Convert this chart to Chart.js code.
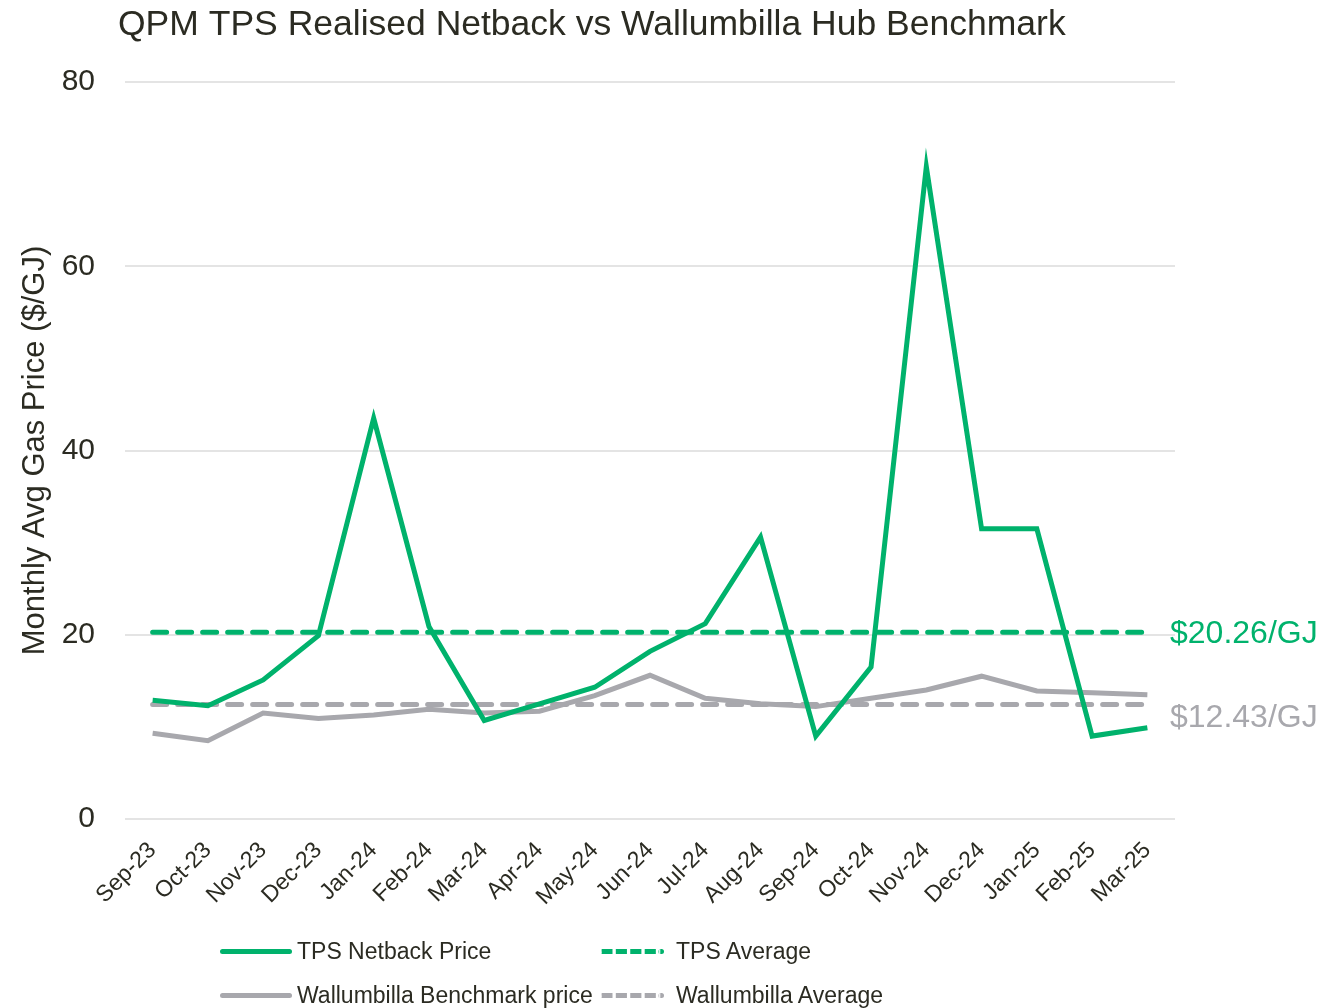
<!DOCTYPE html>
<html>
<head>
<meta charset="utf-8">
<script src="https://cdn.jsdelivr.net/npm/chart.js@4.4.1/dist/chart.umd.min.js"></script>
<style>
  html, body { margin: 0; padding: 0; background: #fff; }
  #wrap { position: relative; width: 1322px; height: 1008px; }
  #legend { position: absolute; left: 220px; top: 936px; font: 23px "Liberation Sans Narrow", "Liberation Sans", sans-serif; color: #2b2b22; }
  .row { position: absolute; white-space: nowrap; display: flex; align-items: center; height: 30px; }
  .sw { display: inline-block; width: 72px; height: 0; border-top: 5px solid; margin-right: 5px; border-radius: 3px; }
  .dash { border-top-style: dashed; width: 64px; margin-right: 12px; }
</style>
</head>
<body>
<div id="wrap">
  <canvas id="chart" width="1322" height="1008"></canvas>
  <div id="legend"></div>
</div>
<script>
const $ = id => document.getElementById(id);

const months = ["Sep-23", "Oct-23", "Nov-23", "Dec-23", "Jan-24", "Feb-24", "Mar-24", "Apr-24", "May-24", "Jun-24",
  "Jul-24", "Aug-24", "Sep-24", "Oct-24", "Nov-24", "Dec-24", "Jan-25", "Feb-25", "Mar-25"];
const tpsPrice = [12.9, 12.3, 15.1, 19.9, 43.5, 20.9, 10.7, 12.5, 14.3, 18.2, 21.2, 30.6, 9.0, 16.5, 70.8, 31.5, 31.5, 9.0, 9.9];
const wallPrice = [9.3, 8.5, 11.5, 10.9, 11.3, 11.9, 11.5, 11.7, 13.4, 15.6, 13.1, 12.5, 12.2, 13.1, 14.0, 15.5, 13.9, 13.7, 13.5];
const tpsAvg = 20.26;
const wallAvg = 12.43;
const yTicks = [0, 20, 40, 60, 80];

const GREEN = "#00b26c";
const GREY = "#a8a8ad";
const TEXT = "#2b2b22";
const FONT = "'Liberation Sans Narrow', 'Liberation Sans', sans-serif";

// title + end labels for the averages
const extras = {
  id: "extras",
  afterDraw(c) {
    const ctx = c.ctx, y = c.scales.y, right = c.chartArea.right;
    ctx.save();
    ctx.textBaseline = "middle";
    ctx.textAlign = "left";
    ctx.font = `35.5px ${FONT}`;
    ctx.fillStyle = TEXT;
    ctx.fillText("QPM TPS Realised Netback vs Wallumbilla Hub Benchmark", 118, 25);
    ctx.font = `32px ${FONT}`;
    ctx.fillStyle = GREEN;
    ctx.fillText(`$${tpsAvg.toFixed(2)}/GJ`, right - 5, y.getPixelForValue(tpsAvg) + 2);
    ctx.fillStyle = GREY;
    ctx.fillText(`$${wallAvg.toFixed(2)}/GJ`, right - 5, y.getPixelForValue(wallAvg) + 14);
    ctx.restore();
  }
};

const flat = v => months.map(() => v);
const datasets = [
  { label: "TPS Netback Price", data: tpsPrice, borderColor: GREEN, borderWidth: 5, order: 1 },
  { label: "TPS Average", data: flat(tpsAvg), borderColor: GREEN, borderWidth: 5, borderDash: [14, 11], borderCapStyle: "round", order: 3 },
  { label: "Wallumbilla Benchmark price", data: wallPrice, borderColor: GREY, borderWidth: 5, order: 2 },
  { label: "Wallumbilla Average", data: flat(wallAvg), borderColor: GREY, borderWidth: 5, borderDash: [14, 11], borderCapStyle: "round", order: 4 }
];

new Chart($("chart"), {
  type: "line",
  data: { labels: months, datasets },
  plugins: [extras],
  options: {
    responsive: false,
    animation: false,
    elements: { point: { radius: 0 }, line: { tension: 0, borderJoinStyle: "miter" } },
    layout: { padding: { top: 82, left: 0, right: 147, bottom: 100 } },
    plugins: { legend: { display: false }, tooltip: { enabled: false } },
    scales: {
      x: {
        offset: true,
        grid: { display: false },
        border: { display: false },
        ticks: { color: TEXT, font: { family: FONT, size: 23 }, minRotation: 45, maxRotation: 45, padding: 10 },
        afterFit: s => { s.height = 89; }
      },
      y: {
        min: 0, max: 80,
        afterBuildTicks: s => { s.ticks = yTicks.map(v => ({ value: v })); },
        grid: { color: "#e4e4e4", lineWidth: 2, drawTicks: false },
        border: { display: false },
        ticks: { color: TEXT, font: { family: FONT, size: 30 }, padding: 30 },
        title: { display: true, text: "Monthly Avg Gas Price ($/GJ)", color: TEXT, font: { family: FONT, size: 31 }, padding: { top: 17, bottom: 0 } },
        afterFit: s => { s.width = 125; }
      }
    }
  }
});

// html legend, two columns
const items = [
  [datasets[0], 0, 0], [datasets[1], 380, 0],
  [datasets[2], 0, 44], [datasets[3], 380, 44]
];
$("legend").innerHTML = items.map(([d, x, y]) =>
  `<div class="row" style="left:${x}px;top:${y}px"><span class="sw${d.borderDash ? " dash" : ""}" style="border-color:${d.borderColor}"></span>${d.label}</div>`
).join("");
</script>
</body>
</html>
